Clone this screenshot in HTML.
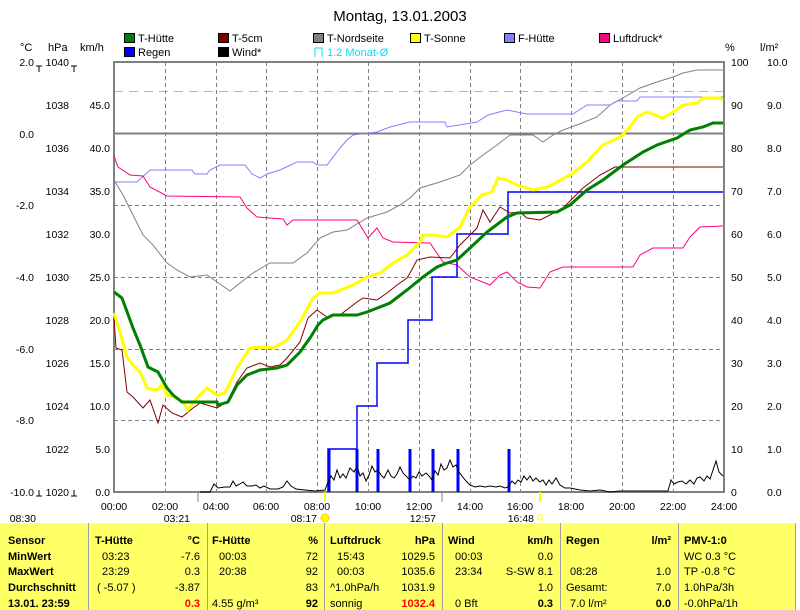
<!DOCTYPE html>
<html><head><meta charset="utf-8"><style>
html,body{margin:0;padding:0;background:#fff;}
svg{display:block;font-family:"Liberation Sans",Arial,sans-serif;}
</style></head><body>
<svg width="800" height="610" viewBox="0 0 800 610" xmlns="http://www.w3.org/2000/svg">
<rect width="800" height="610" fill="#fff"/>
<text x="400" y="21" font-size="15" text-anchor="middle" fill="#000">Montag, 13.01.2003</text>
<g font-size="11" fill="#000">
<rect x="124.5" y="33.5" width="10" height="9" fill="#008000" stroke="#000"/><text x="138" y="42">T-Hütte</text>
<rect x="218.5" y="33.5" width="10" height="9" fill="#800000" stroke="#000"/><text x="232" y="42">T-5cm</text>
<rect x="313.5" y="33.5" width="10" height="9" fill="#808080" stroke="#000"/><text x="327" y="42">T-Nordseite</text>
<rect x="410.5" y="33.5" width="10" height="9" fill="#ffff00" stroke="#000"/><text x="424" y="42">T-Sonne</text>
<rect x="504.5" y="33.5" width="10" height="9" fill="#8080ff" stroke="#000"/><text x="518" y="42">F-Hütte</text>
<rect x="599.5" y="33.5" width="10" height="9" fill="#ff0080" stroke="#000"/><text x="613" y="42">Luftdruck*</text>
<rect x="124.5" y="47.5" width="10" height="9" fill="#0000ff" stroke="#000"/><text x="138" y="56">Regen</text>
<rect x="218.5" y="47.5" width="10" height="9" fill="#000" stroke="#000"/><text x="232" y="56">Wind*</text>
<path d="M315 57 V48 H322 V57" fill="none" stroke="#00e0ff"/><text x="327" y="56" fill="#00e0ff">1.2 Monat-Ø</text>
<text x="20" y="51">°C</text><text x="48" y="51">hPa</text><text x="80" y="51">km/h</text>
<text x="725" y="51">%</text><text x="760" y="51">l/m²</text>
</g>
<g stroke="#808080" stroke-dasharray="4,3" stroke-width="1">
<path d="M165.5 62V492M216.5 62V492M266.5 62V492M317.5 62V492M368.5 62V492M419.5 62V492M470.5 62V492M520.5 62V492M571.5 62V492M622.5 62V492M673.5 62V492"/>
<path d="M114 205.5H724M114 277.5H724M114 349.5H724M114 420.5H724"/>
</g>
<path d="M114 91.5H724" stroke="#00ffff" stroke-dasharray="9,6"/>
<path d="M114 133.5H724" stroke="#808080" stroke-width="2"/>
<rect x="114" y="62" width="610" height="430" fill="none" stroke="#808080" stroke-width="2"/>
<g stroke="#808080"><path d="M198 492V502M442 492V502"/></g>
<g stroke="#ffff00" stroke-width="2"><path d="M325 492V502M540 492V502"/></g>
<polyline fill="none" stroke="#808080" stroke-width="1" points="114,180 123,195 133,215 143,235 153,245 167,263 177,270 190,277 207,275 217,282 230,291 240,283 253,273 270,263 293,263 307,253 320,238 333,232 347,230 367,218 387,212 400,205 410,198 420,188 440,182 460,175 470,165 483,155 497,145 510,135 533,135 543,142 553,135 563,130 577,125 597,117 610,105 623,98 640,88 657,82 673,77 683,73 697,70 723,70"/>
<polyline fill="none" stroke="#8080ff" stroke-width="1" points="114,182 137,182 150,170 192,170 195,174 207,174 210,170 220,165 245,165 252,174 260,178 267,174 280,170 297,162 313,162 317,165 327,165 340,148 347,140 353,135 377,132 390,127 410,122 445,122 447,127 477,122 488,115 507,110 527,114 573,114 587,105 610,105 617,101 637,101 640,97 723,97"/>
<polyline fill="none" stroke="#ff0080" stroke-width="1" points="114,156 118,167 130,175 143,176 150,187 167,196 240,197 247,208 257,217 283,219 287,225 293,220 357,220 368,238 377,228 383,238 393,242 430,243 443,262 457,265 470,277 490,285 500,275 507,272 517,282 527,287 540,288 550,272 563,267 633,267 640,255 653,248 683,248 690,237 700,227 723,226"/>
<polyline fill="none" stroke="#0000ff" stroke-width="1.5" points="328,492 328,449 357,449 357,406 377,406 377,363 408,363 408,320 432,320 432,277 457,277 457,234 508,234 508,192 723,192"/>
<g stroke="#0000ff" stroke-width="3"><path d="M329 492V449M357 492V449M378 492V449M410 492V449M433 492V449M458 492V449M509 492V449"/></g>
<polyline fill="none" stroke="#000" stroke-width="1" points="200,492 210,492 214,484 218,488 225,487 230,487 233,481 236,486 240,484 243,482 247,486 252,486 256,485 260,488 264,486 270,489 278,489 283,487 287,481 291,486 296,489 305,490 315,491 325,490 328,482 331,476 334,480 337,470 340,478 343,474 346,478 350,468 354,472 357,466 360,476 363,473 366,481 369,475 372,466 375,472 378,470 381,475 384,478 388,470 391,476 394,478 397,474 400,467 403,473 406,476 410,480 413,476 416,478 419,472 422,476 426,473 429,476 432,480 435,471 438,475 441,464 444,470 447,468 450,460 453,467 456,465 459,472 462,476 466,481 470,485 475,487 480,486 485,487 490,486 496,487 500,486 505,488 508,487 512,481 515,484 518,480 521,482 524,476 527,480 530,476 533,481 536,478 540,482 543,480 546,485 549,480 552,484 556,478 560,485 565,488 570,488 580,490 590,491 600,490 610,492 620,491 668,491 671,480 674,484 678,482 682,481 686,484 690,480 694,484 697,478 700,477 704,481 707,476 710,479 713,470 716,461 719,472 723,476"/>
<polyline fill="none" stroke="#800000" stroke-width="1" points="114,318 116,348 122,350 127,392 133,397 143,408 150,400 158,423 163,405 172,413 182,417 193,408 200,403 217,408 227,402 237,382 247,368 260,363 270,367 280,365 287,358 300,342 308,318 317,310 327,317 340,315 357,302 363,298 377,300 387,293 397,285 407,278 410,273 417,260 430,257 450,258 460,245 470,235 477,228 483,210 490,222 500,207 510,213 520,212 527,218 540,220 550,215 563,208 573,198 583,188 600,175 615,167 723,167"/>
<polyline fill="none" stroke="#ffff00" stroke-width="3" points="114,313 120,332 127,357 133,365 140,372 147,388 157,390 162,385 167,395 177,398 183,402 188,410 197,398 207,388 217,395 225,393 237,368 250,348 263,347 273,348 287,340 300,322 313,298 320,293 333,293 353,285 367,277 380,273 393,263 407,255 420,242 423,235 433,235 447,237 460,227 470,207 482,195 492,192 498,178 507,180 517,185 533,190 547,187 557,182 573,173 587,162 603,145 620,137 630,127 637,117 647,112 663,118 673,112 683,105 697,103 703,98 720,98 723,100"/>
<polyline fill="none" stroke="#008000" stroke-width="3" points="114,292 122,298 133,328 140,345 148,367 158,372 167,388 173,395 182,402 217,402 218,405 228,402 237,385 247,375 260,370 277,368 287,365 300,352 310,338 318,325 323,320 333,315 357,315 367,312 380,307 390,303 407,290 423,277 437,267 447,263 457,260 470,248 487,232 507,217 517,213 557,212 570,205 587,190 603,180 623,165 643,152 657,145 677,138 690,130 703,127 713,123 723,123"/>
<g font-size="10.5" fill="#000" text-anchor="end">
<text x="34" y="66">2.0</text><text x="34" y="138">0.0</text><text x="34" y="209">-2.0</text><text x="34" y="281">-4.0</text><text x="34" y="353">-6.0</text><text x="34" y="424">-8.0</text><text x="34" y="496">-10.0</text>
<text x="69" y="66">1040</text><text x="69" y="109">1038</text><text x="69" y="152">1036</text><text x="69" y="195">1034</text><text x="69" y="238">1032</text><text x="69" y="281">1030</text><text x="69" y="324">1028</text><text x="69" y="367">1026</text><text x="69" y="410">1024</text><text x="69" y="453">1022</text><text x="69" y="496">1020</text>
<text x="110" y="109">45.0</text><text x="110" y="152">40.0</text><text x="110" y="195">35.0</text><text x="110" y="238">30.0</text><text x="110" y="281">25.0</text><text x="110" y="324">20.0</text><text x="110" y="367">15.0</text><text x="110" y="410">10.0</text><text x="110" y="453">5.0</text><text x="110" y="496">0.0</text>
</g>
<g stroke="#000"><path d="M36 66H42M39 66V72M71 66H77M74 66V72M36 496H42M39 490V496M71 496H77M74 490V496"/></g>
<g font-size="10.5" fill="#000">
<text x="731" y="66">100</text><text x="731" y="109">90</text><text x="731" y="152">80</text><text x="731" y="195">70</text><text x="731" y="238">60</text><text x="731" y="281">50</text><text x="731" y="324">40</text><text x="731" y="367">30</text><text x="731" y="410">20</text><text x="731" y="453">10</text><text x="731" y="496">0</text>
<text x="767" y="66">10.0</text><text x="767" y="109">9.0</text><text x="767" y="152">8.0</text><text x="767" y="195">7.0</text><text x="767" y="238">6.0</text><text x="767" y="281">5.0</text><text x="767" y="324">4.0</text><text x="767" y="367">3.0</text><text x="767" y="410">2.0</text><text x="767" y="453">1.0</text><text x="767" y="496">0.0</text>
</g>
<g font-size="10.5" fill="#000" text-anchor="middle">
<text x="114" y="510">00:00</text><text x="165" y="510">02:00</text><text x="216" y="510">04:00</text><text x="266" y="510">06:00</text><text x="317" y="510">08:00</text><text x="368" y="510">10:00</text><text x="419" y="510">12:00</text><text x="470" y="510">14:00</text><text x="520" y="510">16:00</text><text x="571" y="510">18:00</text><text x="622" y="510">20:00</text><text x="673" y="510">22:00</text><text x="724" y="510">24:00</text>
</g>
<g font-size="10.5" fill="#000" text-anchor="end">
<text x="36" y="522">08:30</text><text x="190" y="522">03:21</text><text x="317" y="522">08:17</text><text x="436" y="522">12:57</text><text x="534" y="522">16:48</text>
</g>
<circle cx="325" cy="518" r="4" fill="#ffff00" stroke="#ffcc00"/>
<rect x="538" y="515" width="4" height="5" fill="none" stroke="#ffff00"/>
<rect x="0" y="523" width="796" height="87" fill="#ffff66"/>
<g stroke="#a0a0a0"><path d="M88.5 523V610M207.5 523V610M324.5 523V610M442.5 523V610M560.5 523V610M678.5 523V610M795.5 523V610"/></g>
<g font-size="11" fill="#000" font-weight="bold">
<text x="8" y="544">Sensor</text><text x="8" y="560">MinWert</text><text x="8" y="575">MaxWert</text><text x="8" y="591">Durchschnitt</text><text x="8" y="607">13.01. 23:59</text>
<text x="95" y="544">T-Hütte</text><text x="212" y="544">F-Hütte</text><text x="330" y="544">Luftdruck</text><text x="448" y="544">Wind</text><text x="566" y="544">Regen</text><text x="684" y="544">PMV-1:0</text>
</g>
<g font-size="11" fill="#000" font-weight="bold" text-anchor="end">
<text x="200" y="544">°C</text><text x="318" y="544">%</text><text x="435" y="544">hPa</text><text x="553" y="544">km/h</text><text x="671" y="544">l/m²</text>
<text x="200" y="607" fill="#ff0000">0.3</text><text x="318" y="607">92</text><text x="435" y="607" fill="#ff0000">1032.4</text><text x="553" y="607">0.3</text><text x="671" y="607">0.0</text>
</g>
<g font-size="11" fill="#000">
<text x="102" y="560">03:23</text><text x="102" y="575">23:29</text><text x="97" y="591">( -5.07 )</text>
<text x="219" y="560">00:03</text><text x="219" y="575">20:38</text><text x="212" y="607">4.55 g/m³</text>
<text x="337" y="560">15:43</text><text x="337" y="575">00:03</text><text x="330" y="591">^1.0hPa/h</text><text x="330" y="607">sonnig</text>
<text x="455" y="560">00:03</text><text x="455" y="575">23:34</text><text x="455" y="607">0 Bft</text>
<text x="570" y="575">08:28</text><text x="566" y="591">Gesamt:</text><text x="570" y="607">7.0 l/m²</text>
<text x="684" y="560">WC 0.3 °C</text><text x="684" y="575">TP -0.8 °C</text><text x="684" y="591">1.0hPa/3h</text><text x="684" y="607">-0.0hPa/1h</text>
</g>
<g font-size="11" fill="#000" text-anchor="end">
<text x="200" y="560">-7.6</text><text x="200" y="575">0.3</text><text x="200" y="591">-3.87</text>
<text x="318" y="560">72</text><text x="318" y="575">92</text><text x="318" y="591">83</text>
<text x="435" y="560">1029.5</text><text x="435" y="575">1035.6</text><text x="435" y="591">1031.9</text>
<text x="553" y="560">0.0</text><text x="553" y="575">S-SW 8.1</text><text x="553" y="591">1.0</text>
<text x="671" y="575">1.0</text><text x="671" y="591">7.0</text>
</g>
</svg>
</body></html>
